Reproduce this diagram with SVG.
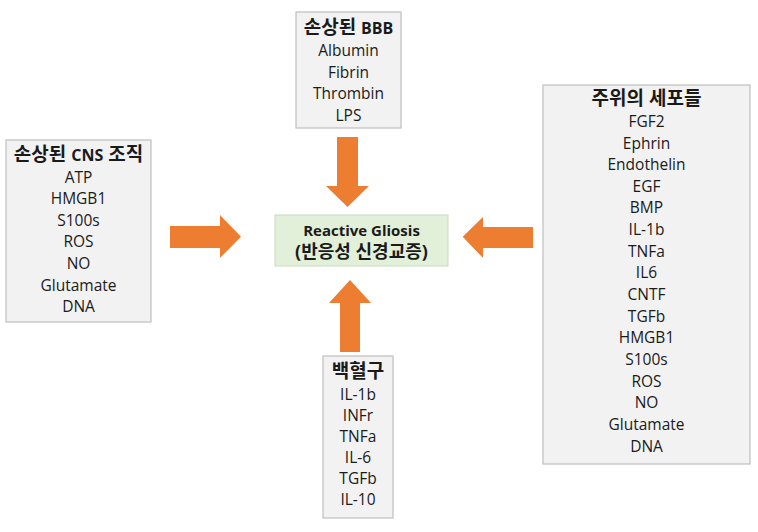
<svg xmlns="http://www.w3.org/2000/svg" width="758" height="532" viewBox="0 0 758 532">
<defs>
<style>
.box{fill:#f2f2f2;stroke:#bfbfbf;stroke-width:1.2}
.center{fill:#e2efd9;stroke:#c9dcbc;stroke-width:1}
.arrow{fill:#ed7d31}
text{font-family:"Open Sans","Noto Sans CJK KR",sans-serif;fill:#1a1a1a;text-anchor:middle}
.item{font-size:15.5px}
.title{font-size:19px;font-weight:bold}
.lat{font-size:16px}
.ctr{font-size:15px;font-weight:bold}
.ctr2{font-size:18px;font-weight:bold}
</style>
</defs>
<rect width="758" height="532" fill="#ffffff"/>
<g id="connectors">
<polygon class="arrow" points="337,137 358,137 358,186 369,186 347.5,207 326,186 337,186"/>
<polygon class="arrow" points="340,352 360,352 360,303 371,303 350,280 329,303 340,303"/>
<polygon class="arrow" points="170,226 220,226 220,215 241,236.7 220,258 220,248 170,248"/>
<polygon class="arrow" points="533,227 483,227 483,217 462.7,236.7 483,258 483,248 533,248"/>
</g>
<g id="bbb">
<rect class="box" x="296" y="12" width="105" height="116"/>
<text x="348.5" y="34" class="title">손상된 <tspan class="lat">BBB</tspan></text>
<text x="348.5" y="56" class="item">Albumin</text>
<text x="348.5" y="77.5" class="item">Fibrin</text>
<text x="348.5" y="99" class="item">Thrombin</text>
<text x="348.5" y="120.5" class="item">LPS</text>
</g>
<g id="cns">
<rect class="box" x="6" y="140" width="145" height="182"/>
<text x="78.5" y="161" class="title">손상된 <tspan class="lat">CNS</tspan> 조직</text>
<text x="78.5" y="182.6" class="item">ATP</text>
<text x="78.5" y="204.2" class="item">HMGB1</text>
<text x="78.5" y="225.8" class="item">S100s</text>
<text x="78.5" y="247.4" class="item">ROS</text>
<text x="78.5" y="269" class="item">NO</text>
<text x="78.5" y="290.6" class="item">Glutamate</text>
<text x="78.5" y="312.2" class="item">DNA</text>
</g>
<g id="gliosis">
<rect class="center" x="275" y="215" width="173" height="51"/>
<text x="361.5" y="236" class="ctr">Reactive Gliosis</text>
<text x="361.5" y="258" class="ctr2">(반응성 신경교증)</text>
</g>
<g id="leukocyte">
<rect class="box" x="323" y="356" width="70" height="162"/>
<text x="358" y="378" class="title">백혈구</text>
<text x="358" y="400" class="item">IL-1b</text>
<text x="358" y="420.9" class="item">INFr</text>
<text x="358" y="441.8" class="item">TNFa</text>
<text x="358" y="462.7" class="item">IL-6</text>
<text x="358" y="483.6" class="item">TGFb</text>
<text x="358" y="504.5" class="item">IL-10</text>
</g>
<g id="cells">
<rect class="box" x="543" y="85" width="207" height="379"/>
<text x="646.5" y="105" class="title">주위의 세포들</text>
<text x="646.5" y="127" class="item">FGF2</text>
<text x="646.5" y="148.6" class="item">Ephrin</text>
<text x="646.5" y="170.2" class="item">Endothelin</text>
<text x="646.5" y="191.8" class="item">EGF</text>
<text x="646.5" y="213.4" class="item">BMP</text>
<text x="646.5" y="235" class="item">IL-1b</text>
<text x="646.5" y="256.7" class="item">TNFa</text>
<text x="646.5" y="278.4" class="item">IL6</text>
<text x="646.5" y="300" class="item">CNTF</text>
<text x="646.5" y="321.7" class="item">TGFb</text>
<text x="646.5" y="343.4" class="item">HMGB1</text>
<text x="646.5" y="365" class="item">S100s</text>
<text x="646.5" y="386.7" class="item">ROS</text>
<text x="646.5" y="408.4" class="item">NO</text>
<text x="646.5" y="430" class="item">Glutamate</text>
<text x="646.5" y="451.7" class="item">DNA</text>
</g>
</svg>
